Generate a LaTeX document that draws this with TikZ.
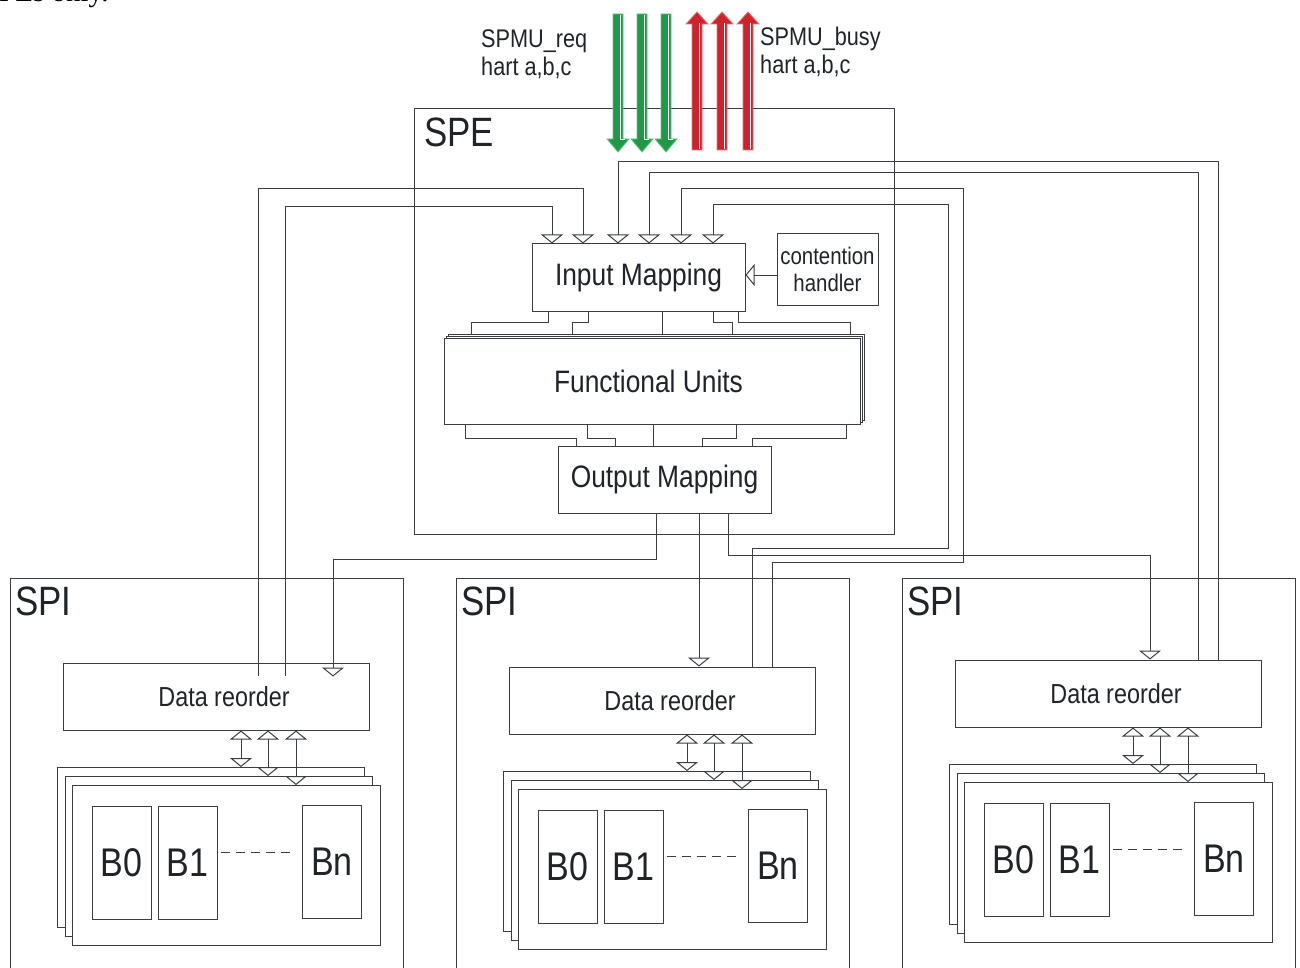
\documentclass[tikz,border=0pt]{standalone}
\usepackage{fontspec}
\setmainfont{Liberation Sans}
\newfontfamily\lab[FakeStretch=0.85]{Liberation Sans}
\newfontfamily\docserif{Liberation Serif}
\usetikzlibrary{arrows.meta}
\definecolor{wirec}{HTML}{3A3E43}
\definecolor{txtc}{HTML}{202428}
\definecolor{gfill}{HTML}{1E9A47}
\definecolor{gedge}{HTML}{62C283}
\definecolor{rfill}{HTML}{D0222B}
\definecolor{redge}{HTML}{E57479}
\newcommand\fsz[1]{\fontsize{#1}{#1}\selectfont}

\begin{document}
\begin{tikzpicture}[x=1pt,y=-1pt,
  opentri/.tip={Triangle[open,width=22pt,length=9pt]},
  wire/.style={draw=wirec,line width=1pt},
  inarr/.style={wire,-opentri},
  bidir/.style={wire,opentri-opentri},
  box/.style={draw=wirec,line width=1pt,fill=white,inner sep=0pt,text=txtc},
  frame/.style={draw=wirec,line width=1pt,inner sep=0pt},
  layer/.style={draw=wirec,line width=1pt,fill=white,inner sep=0pt},
  title/.style={anchor=base west,inner sep=0pt,text=txtc,font=\lab\fsz{41}},
  lbl/.style={anchor=base west,inner sep=0pt,text=txtc,font=\lab\fsz{25.5}},
  bank/.style={box,minimum width=59pt,minimum height=113pt,font=\lab\fsz{40}},
  stackl/.style={layer,minimum width=307pt,minimum height=160pt,anchor=north west},
]
\useasboundingbox (0,0) rectangle (1300,968);

% tail of the preceding text line
\node[anchor=base west,inner sep=0pt,font=\docserif\fsz{29}] (prev) at (-1,2) {PEs only.};

% ---------------- SPE ----------------
\node[frame,minimum width=480pt,minimum height=426pt,anchor=north west] (spe) at (414,108) {};
\node[title] (speT) at (424,147) {SPE};

% request / busy signals
\foreach \c in {618,642,666} {
  \filldraw[fill=gfill,draw=gedge,line width=0.8pt]
    (\c-5,14) -- (\c+5,14) -- (\c+5,139) -- (\c+11,139) -- (\c,152)
    -- (\c-11,139) -- (\c-5,139) -- cycle;
  \draw[white,line width=0.7pt] (\c+2.8,15) -- (\c+2.8,139.5) -- (\c+7,139.5);
}
\foreach \c in {697,722,748} {
  \filldraw[fill=rfill,draw=redge,line width=0.8pt]
    (\c-5,150) -- (\c+5,150) -- (\c+5,24) -- (\c+11,24) -- (\c,12)
    -- (\c-11,24) -- (\c-5,24) -- cycle;
  \draw[white,line width=0.7pt] (\c+2.8,149) -- (\c+2.8,23.5);
}
\node[lbl] (reqA) at (481,48) {SPMU\_req};
\node[lbl] (reqB) at (481,76) {hart a,b,c};
\node[lbl] (busyA) at (760,46) {SPMU\_busy};
\node[lbl] (busyB) at (760,74) {hart a,b,c};

% mapping stages
\node[box,minimum width=213pt,minimum height=67pt,font=\lab\fsz{31}] (im) at (638.5,277.5) {Input Mapping};
\node[box,minimum width=101pt,minimum height=71pt,align=center,
      font=\lab\fontsize{24}{27}\selectfont] (ch) at (827.5,269.5) {contention\\handler};
\node[layer,minimum width=416pt,minimum height=86pt,anchor=north west] (fuC) at (448,334) {};
\node[layer,minimum width=416pt,minimum height=86pt,anchor=north west] (fuB) at (446,336) {};
\node[box,minimum width=416pt,minimum height=86pt,anchor=north west,font=\lab\fsz{31}] (fu) at (444,338) {Functional Units\hspace*{8pt}};
\node[box,minimum width=213pt,minimum height=67pt,font=\lab\fsz{31}] (om) at (664.5,479.5) {Output Mapping};

\draw[inarr] (ch.west |- 0,275) -- (im.east |- 0,275);

% input mapping -> functional units
\draw[wire] (im.south -| 548,0) |- (471,322) -- (fuC.north -| 471,0);
\draw[wire] (im.south -| 588,0) |- (572,322) -- (fuC.north -| 572,0);
\draw[wire] (im.south -| 662,0) -- (fuC.north -| 662,0);
\draw[wire] (im.south -| 713,0) |- (732,322) -- (fuC.north -| 732,0);
\draw[wire] (im.south -| 738,0) |- (850,322) -- (fuC.north -| 850,0);

% functional units -> output mapping
\draw[wire] (fu.south -| 465,0) |- (576,438) -- (om.north -| 576,0);
\draw[wire] (fu.south -| 587,0) |- (615,438) -- (om.north -| 615,0);
\draw[wire] (fu.south -| 653,0) -- (om.north -| 653,0);
\draw[wire] (fu.south -| 736,0) |- (702,438) -- (om.north -| 702,0);
\draw[wire] (fu.south -| 846,0) |- (752,438) -- (om.north -| 752,0);

% ---------------- SPI tiles ----------------
\foreach \s/\dx/\dy in {L/0/0, M/446/4, R/892/-3} {
  \node[frame,minimum width=393pt,minimum height=420pt,anchor=north west] (spi\s) at (10+\dx,578) {};
  \node[title] (spit\s) at (15+\dx,615) {SPI};
  \begin{scope}[shift={(\dx,\dy)}]
    \node[box,minimum width=306pt,minimum height=67pt,font=\lab\fsz{27.5}] (dr\s) at (216,696.5) {\hspace*{16pt}Data reorder};
    \node[stackl] (stA\s) at (57,767) {};
    \node[stackl] (stB\s) at (65,776) {};
    \node[stackl,minimum width=308pt] (stC\s) at (72,785) {};
    \node[bank] (bz\s) at (121.5,862.5) {B0};
    \node[bank] (bo\s) at (187.5,862.5) {B1};
    \node[bank] (bn\s) at (332,861.5) {Bn};
    \draw[wirec,line width=1pt,dash pattern=on 9pt off 6pt] (221,852) -- (293,852);
    \draw[bidir] (dr\s.south -| 241,0) -- (stA\s.north -| 241,0);
    \draw[bidir] (dr\s.south -| 268,0) -- (stB\s.north -| 268,0);
    \draw[bidir] (dr\s.south -| 296,0) -- (stC\s.north -| 296,0);
  \end{scope}
}

% ports inside the left data reorder block
\path (drL.north -| 285,0) coordinate (pA);
\path (drL.north -| 258,0) coordinate (pB);
\path (drL.north -| 333,0) coordinate (pC);

% data reorder -> input mapping
\draw[inarr] ([yshift=-13pt]pA) |- (552,207) -- (im.north -| 552,0);
\draw[inarr] ([yshift=-13pt]pB) |- (583,189) -- (im.north -| 583,0);
\draw[inarr] (drR.north -| 1218,0) |- (618,162) -- (im.north -| 618,0);
\draw[inarr] (drR.north -| 1198,0) |- (649,173) -- (im.north -| 649,0);
\draw[inarr] (drM.north -| 772,0) |- (963,562) |- (681,189) -- (im.north -| 681,0);
\draw[inarr] (drM.north -| 752,0) |- (948,548) |- (713,205) -- (im.north -| 713,0);

% output mapping -> data reorder
\draw[inarr] (om.south -| 656,0) |- (333,559) -- ([yshift=-14pt]pC);
\draw[inarr] (om.south -| 699,0) -- (drM.north -| 699,0);
\draw[inarr] (om.south -| 728,0) |- (1150,555) -- (drR.north -| 1150,0);
\end{tikzpicture}
\end{document}
